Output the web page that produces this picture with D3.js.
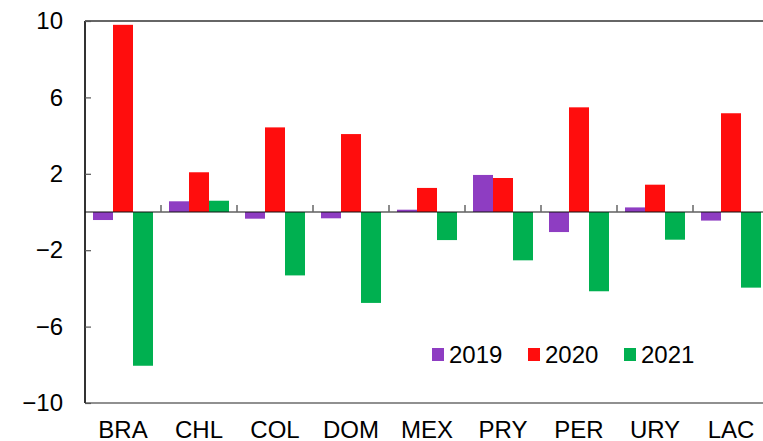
<!DOCTYPE html>
<html>
<head>
<meta charset="utf-8">
<script src="https://cdn.jsdelivr.net/npm/d3@7"></script>
<style>
html,body{margin:0;padding:0;background:#fff;}
svg{display:block;}
text{font-family:"Liberation Sans",Arial,sans-serif;fill:#000;}
</style>
</head>
<body>
<script>
const categories = ["BRA","CHL","COL","DOM","MEX","PRY","PER","URY","LAC"];
const seriesNames = ["2019","2020","2021"];
const v2019 = [-0.42, 0.56, -0.35, -0.33, 0.12, 1.94, -1.05, 0.24, -0.45];
const v2020 = [9.8, 2.08, 4.43, 4.08, 1.26, 1.78, 5.48, 1.43, 5.17];
const v2021 = [-8.05, 0.59, -3.32, -4.76, -1.47, -2.53, -4.15, -1.45, -3.96];
const yTicks = [10, 6, 2, -2, -6, -10];
const colors = ["#8E3DC2", "#FF0D0D", "#00B050"];

const W = 763, H = 441;
const mL = 85, mR = 769, mT = 21, mB = 403;
const fs = 24;

const svg = d3.select("body").append("svg").attr("width", W).attr("height", H);

const x = d3.scaleBand().domain(categories).range([mL, mR]).paddingInner(0).paddingOuter(0);
const y = d3.scaleLinear().domain([-10, 10]).range([mB, mT]);

const series = [v2019, v2020, v2021];
const data = [];
categories.forEach((c, i) => series.forEach((s, j) => data.push({c, j, v: s[i], col: colors[j]})));

const bw = 20;
svg.append("g").selectAll("rect").data(data).join("rect")
  .attr("x", d => x(d.c) + x.bandwidth()/2 - 30 + d.j*bw)
  .attr("width", bw)
  .attr("y", d => y(Math.max(0, d.v)))
  .attr("height", d => Math.abs(y(d.v) - y(0)))
  .attr("fill", d => d.col);

// frame lines
svg.append("line").attr("x1", mL).attr("x2", mR).attr("y1", mT).attr("y2", mT).attr("stroke", "#333").attr("stroke-width", 1.5);
svg.append("line").attr("x1", mL).attr("x2", mR).attr("y1", mB).attr("y2", mB).attr("stroke", "#222").attr("stroke-width", 1.2);

// left axis
const yAxis = d3.axisLeft(y).tickValues(yTicks).tickSize(-6).tickPadding(22)
  .tickFormat(d => d < 0 ? "\u2212" + Math.abs(d) : String(d));
const gy = svg.append("g").attr("transform", `translate(${mL},0)`).call(yAxis);
gy.select(".domain").attr("stroke", "#333").attr("stroke-width", 2).attr("d", `M0,${mT}V${mB}`);
gy.selectAll(".tick line").attr("stroke", "#555").attr("stroke-width", 1.2);
gy.selectAll(".tick text").attr("font-size", fs).attr("font-family", "Liberation Sans, Arial, sans-serif").attr("fill", "#000");

// right axis (mostly off-canvas)
const yAxisR = d3.axisRight(y).tickValues(yTicks).tickSize(-6).tickFormat("");
const gr = svg.append("g").attr("transform", `translate(${mR},0)`).call(yAxisR);
gr.select(".domain").attr("stroke", "#333").attr("d", `M0,${mT}V${mB}`);
gr.selectAll(".tick line").attr("stroke", "#555").attr("stroke-width", 1.2);

// zero line with category separators
svg.append("line").attr("x1", mL).attr("x2", mR).attr("y1", y(0)).attr("y2", y(0)).attr("stroke", "#111").attr("stroke-width", 1.2);
svg.append("g").selectAll("line").data(categories.slice(1)).join("line")
  .attr("x1", d => x(d)).attr("x2", d => x(d))
  .attr("y1", y(0)).attr("y2", y(0) - 7)
  .attr("stroke", "#666").attr("stroke-width", 1.5);

// x labels
svg.append("g").selectAll("text").data(categories).join("text")
  .attr("x", d => x(d) + x.bandwidth()/2)
  .attr("y", 438)
  .attr("text-anchor", "middle")
  .attr("font-size", fs)
  .text(d => d);

// legend
const lg = svg.append("g").selectAll("g").data(seriesNames).join("g")
  .attr("transform", (d, i) => `translate(${432 + i*96},348)`);
lg.append("rect").attr("width", 12).attr("height", 13).attr("fill", (d, i) => colors[i]);
lg.append("text").attr("x", 17).attr("y", 14.5).attr("font-size", fs).text(d => d);
</script>
</body>
</html>
